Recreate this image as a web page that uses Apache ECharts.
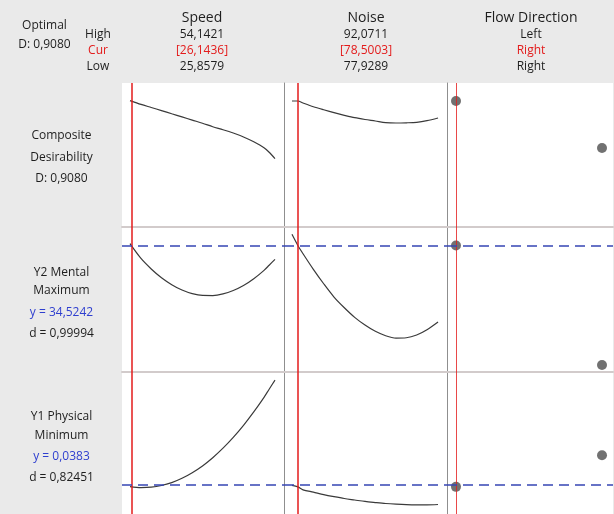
<!DOCTYPE html>
<html>
<head>
<meta charset="utf-8">
<script src="https://cdn.jsdelivr.net/npm/echarts@6/dist/echarts.min.js"></script>
<style>
  html, body { margin: 0; padding: 0; background: #eaeaea; }
  #chart { width: 614px; height: 514px; }
</style>
</head>
<body>
<div id="chart"></div>
<script>
// Response optimizer: factor settings and predicted response traces

const factorNames = ['Speed', 'Noise', 'Flow Direction'];
const highLabels = ['54,1421', '92,0711', 'Left'];
const curLabels = ['[26,1436]', '[78,5003]', 'Right'];
const lowLabels = ['25,8579', '77,9289', 'Right'];

const responseLabels = [
  ['Composite', 'Desirability', 'D: 0,9080'],
  ['Y2 Mental', 'Maximum', 'y = 34,5242', 'd = 0,99994'],
  ['Y1 Physical', 'Minimum', 'y = 0,0383', 'd = 0,82451']
];

// Speed trace (low .. high)
const speedX = [25.8579, 28, 30, 32, 34, 36, 38, 40, 42, 44, 46, 48, 50, 52, 53, 54.1421];
const speedComposite = [0.911, 0.8835, 0.8612, 0.8388, 0.8158, 0.7934, 0.7704, 0.7480,
                        0.7228, 0.7010, 0.6770, 0.6490, 0.6140, 0.5715, 0.5390, 0.4922];
const speedMental = [34.71, 33.23, 32.18, 31.30, 30.61, 30.07, 29.71, 29.53,
                     29.52, 29.68, 30.02, 30.52, 31.20, 32.04, 32.55, 33.14];
const speedPhysical = [0.0386, 0.0376, 0.0380, 0.0397, 0.0427, 0.0471, 0.0528, 0.0597,
                       0.0681, 0.0778, 0.0888, 0.1011, 0.1148, 0.1297, 0.1380, 0.1473];

// Noise trace (low .. high)
const noiseX = [77.9289, 78.5003, 79, 80, 81, 82, 83, 84, 85, 86, 87, 88, 89, 90, 91, 92.0711];
const noiseComposite = [0.908, 0.908, 0.8936, 0.8669, 0.8446, 0.8237, 0.8049, 0.7876,
                        0.7747, 0.7639, 0.7523, 0.7495, 0.7509, 0.7545, 0.7660, 0.7855];
const noiseMental = [35.64, 34.5242, 33.70, 32.14, 30.70, 29.37, 28.30, 27.34,
                     26.57, 25.94, 25.50, 25.27, 25.30, 25.57, 26.10, 26.87];
const noisePhysical = [0.0399, 0.0383, 0.0353, 0.0329, 0.0304, 0.0283, 0.0264, 0.0249,
                       0.0234, 0.0223, 0.0213, 0.0206, 0.0201, 0.0199, 0.0199, 0.0203];

// Flow direction levels (low level first)
const flowLevels = ['Right', 'Left'];
const flowComposite = [0.908, 0.5693];
const flowMental = [34.5242, 22.57];
const flowPhysical = [0.0383, 0.0706];

// Current settings and predicted responses
const speedCur = 26.1436;
const noiseCur = 78.5003;
const flowCur = 'Right';
const mentalY = 34.5242;
const physicalY = 0.0383;

const RED = '#e31b1b';
const BLUE = '#2f3fcf';
const DASH = '#3646b4';
const INK = '#1e1e1e';
const FONT = '"Open Sans", "Noto Sans", sans-serif';

const colLeft = [122, 284, 447];
const colWidth = [162, 163, 166];
const rowTop = [83, 227, 372];
const rowHeight = [144, 145, 145];

const xRanges = [[24.2974, 55.8977], [77.1577, 92.9387], [-0.0616, 1.0753]];
const yRanges = [[0, 1.0377], [21.8742, 36.3742], [0.0106, 0.1556]];

const pair = (xs, ys) => xs.map((x, i) => [x, ys[i]]);
const flowIdx = flowLevels.map((_, i) => i);

const traces = [
  [pair(speedX, speedComposite), pair(noiseX, noiseComposite), pair(flowIdx, flowComposite)],
  [pair(speedX, speedMental), pair(noiseX, noiseMental), pair(flowIdx, flowMental)],
  [pair(speedX, speedPhysical), pair(noiseX, noisePhysical), pair(flowIdx, flowPhysical)]
];
const curValues = [speedCur, noiseCur, flowLevels.indexOf(flowCur)];
const targets = [null, mentalY, physicalY];

const grids = [], xAxes = [], yAxes = [], series = [];
for (let r = 0; r < 3; r++) {
  for (let c = 0; c < 3; c++) {
    const k = r * 3 + c;
    grids.push({
      left: colLeft[c], top: rowTop[r], width: colWidth[c], height: rowHeight[r],
      show: true, backgroundColor: '#ffffff', borderWidth: 0
    });
    xAxes.push({
      type: 'value', gridIndex: k, min: xRanges[c][0], max: xRanges[c][1],
      axisLine: { show: r < 2, onZero: false, lineStyle: { color: '#d2cbcb', width: 2 } },
      axisTick: { show: false }, axisLabel: { show: false }, splitLine: { show: false }
    });
    yAxes.push({
      type: 'value', gridIndex: k, min: yRanges[r][0], max: yRanges[r][1],
      axisLine: { show: c > 0, onZero: false, lineStyle: { color: '#8f8f8f', width: 1 } },
      axisTick: { show: false }, axisLabel: { show: false }, splitLine: { show: false }
    });

    const markData = [{
      xAxis: curValues[c],
      lineStyle: { color: RED, width: c === 2 ? 1 : 1.5, type: 'solid', opacity: c === 2 ? 0.8 : 1 }
    }];
    if (targets[r] !== null) {
      markData.push({ yAxis: targets[r], lineStyle: { color: DASH, width: 1.5, type: [10, 6] } });
    }

    const base = {
      xAxisIndex: k, yAxisIndex: k, data: traces[r][c], silent: true, z: 3,
      markLine: { symbol: ['none', 'none'], label: { show: false }, silent: true, data: markData, z: 4 }
    };
    if (c < 2) {
      series.push(Object.assign(base, {
        type: 'line', smooth: 0.3, showSymbol: false,
        lineStyle: { color: '#3a3a3a', width: 1.2 }
      }));
    } else {
      series.push(Object.assign(base, {
        type: 'scatter', symbol: 'circle', symbolSize: 10,
        itemStyle: { color: '#4d4d4d' }
      }));
    }
  }
}

// Header and row labels
const graphics = [];
function txt(s, x, y, color, size) {
  graphics.push({
    type: 'text', x: x, y: y, silent: true,
    style: { text: s, fill: color || INK, font: (size || 12) + 'px ' + FONT,
             align: 'center', verticalAlign: 'middle', textAlign: 'center', textVerticalAlign: 'middle' }
  });
}
txt('Optimal', 44.5, 26);
txt('D: 0,9080', 44.5, 45);
txt('High', 98, 35);
txt('Cur', 98, 51, RED);
txt('Low', 98, 67);
const headerX = [202, 366, 531];
for (let c = 0; c < 3; c++) {
  txt(factorNames[c], headerX[c], 18, INK, 14);
  txt(highLabels[c], headerX[c], 35);
  txt(curLabels[c], headerX[c], 51, RED);
  txt(lowLabels[c], headerX[c], 67);
}
const labelY = [[136, 157.5, 179], [272.5, 291, 313, 334], [417, 435.5, 456.5, 477.5]];
responseLabels.forEach((lines, r) => {
  lines.forEach((s, i) => {
    txt(s, 61.5, labelY[r][i], s.startsWith('y =') ? BLUE : INK);
  });
});

const chart = echarts.init(document.getElementById('chart'), null, { renderer: 'canvas' });
chart.setOption({
  backgroundColor: '#eaeaea',
  animation: false,
  grid: grids,
  xAxis: xAxes,
  yAxis: yAxes,
  series: series,
  graphic: graphics
});
</script>
</body>
</html>
